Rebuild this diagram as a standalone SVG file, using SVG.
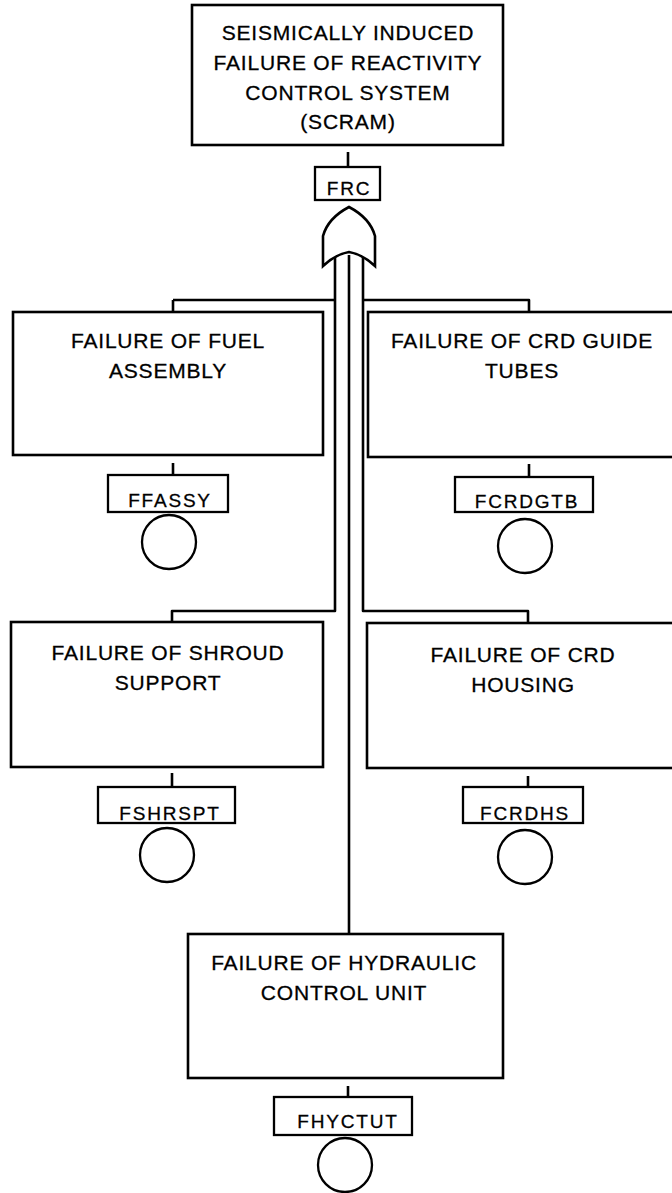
<svg xmlns="http://www.w3.org/2000/svg" width="672" height="1193" viewBox="0 0 672 1193">
<style>
.box{fill:#fff;stroke:#000;stroke-width:2.6}
.lbl{fill:#fff;stroke:#000;stroke-width:2.3}
.ln{fill:none;stroke:#000;stroke-width:2.6;stroke-linejoin:round}
.t{font-family:"Liberation Sans",Arial,sans-serif;font-size:21px;letter-spacing:0.8px;text-anchor:middle;fill:#000;stroke:#000;stroke-width:0.3}
.s{font-family:"Liberation Sans",Arial,sans-serif;font-size:19px;letter-spacing:1.8px;text-anchor:middle;fill:#000;stroke:#000;stroke-width:0.3}
</style>
<rect width="672" height="1193" fill="#fff"/>
<g id="connectors">
<path class="ln" d="M348 152V167"/>
<path class="ln" d="M335 255V611H172V622"/>
<path class="ln" d="M363 255V611H528V623"/>
<path class="ln" d="M349 255V934"/>
<path class="ln" d="M173 300H335"/>
<path class="ln" d="M173 300V312"/>
<path class="ln" d="M363 300H529V312"/>
<path class="ln" d="M173 463V475"/>
<path class="ln" d="M529 464V477"/>
<path class="ln" d="M172 773V787"/>
<path class="ln" d="M528 776V787"/>
<path class="ln" d="M348 1086V1097"/>
</g>
<g id="top">
<rect class="box" x="192" y="5" width="311" height="140"/>
<text class="t" x="348" y="40">SEISMICALLY INDUCED</text>
<text class="t" x="348" y="70">FAILURE OF REACTIVITY</text>
<text class="t" x="348" y="100">CONTROL SYSTEM</text>
<text class="t" x="348" y="129">(SCRAM)</text>
</g>
<g id="frc">
<rect class="lbl" x="315" y="167" width="65" height="33"/>
<text class="s" x="349" y="195">FRC</text>
</g>
<g id="orgate">
<path class="box" d="M349 207Q328 218 323 236L323 266Q336 254 349 252Q362 254 375 266L375 236Q370 218 349 207Z"/>
</g>
<g id="fuel">
<rect class="box" x="13" y="312" width="310" height="143"/>
<text class="t" x="168" y="348">FAILURE OF FUEL</text>
<text class="t" x="168" y="378">ASSEMBLY</text>
<rect class="lbl" x="108" y="475" width="120" height="37"/>
<text class="s" x="170" y="507">FFASSY</text>
<circle class="lbl" cx="169" cy="542" r="27"/>
</g>
<g id="guide">
<rect class="box" x="368" y="312" width="310" height="145"/>
<text class="t" x="522" y="348">FAILURE OF CRD GUIDE</text>
<text class="t" x="522" y="378">TUBES</text>
<rect class="lbl" x="455" y="477" width="138" height="35"/>
<text class="s" x="527" y="508">FCRDGTB</text>
<circle class="lbl" cx="525" cy="546" r="27"/>
</g>
<g id="shroud">
<rect class="box" x="11" y="622" width="312" height="145"/>
<text class="t" x="168" y="660">FAILURE OF SHROUD</text>
<text class="t" x="168" y="690">SUPPORT</text>
<rect class="lbl" x="98" y="787" width="137" height="36"/>
<text class="s" x="170" y="820">FSHRSPT</text>
<circle class="lbl" cx="167" cy="855" r="27"/>
</g>
<g id="housing">
<rect class="box" x="367" y="623" width="311" height="145"/>
<text class="t" x="523" y="662">FAILURE OF CRD</text>
<text class="t" x="523" y="692">HOUSING</text>
<rect class="lbl" x="463" y="787" width="120" height="36"/>
<text class="s" x="525" y="820">FCRDHS</text>
<circle class="lbl" cx="525" cy="857" r="27"/>
</g>
<g id="hydraulic">
<rect class="box" x="188" y="934" width="315" height="144"/>
<text class="t" x="344" y="970">FAILURE OF HYDRAULIC</text>
<text class="t" x="344" y="1000">CONTROL UNIT</text>
<rect class="lbl" x="274" y="1097" width="138" height="38"/>
<text class="s" x="348" y="1128">FHYCTUT</text>
<circle class="lbl" cx="345" cy="1165" r="27"/>
</g>
</svg>
